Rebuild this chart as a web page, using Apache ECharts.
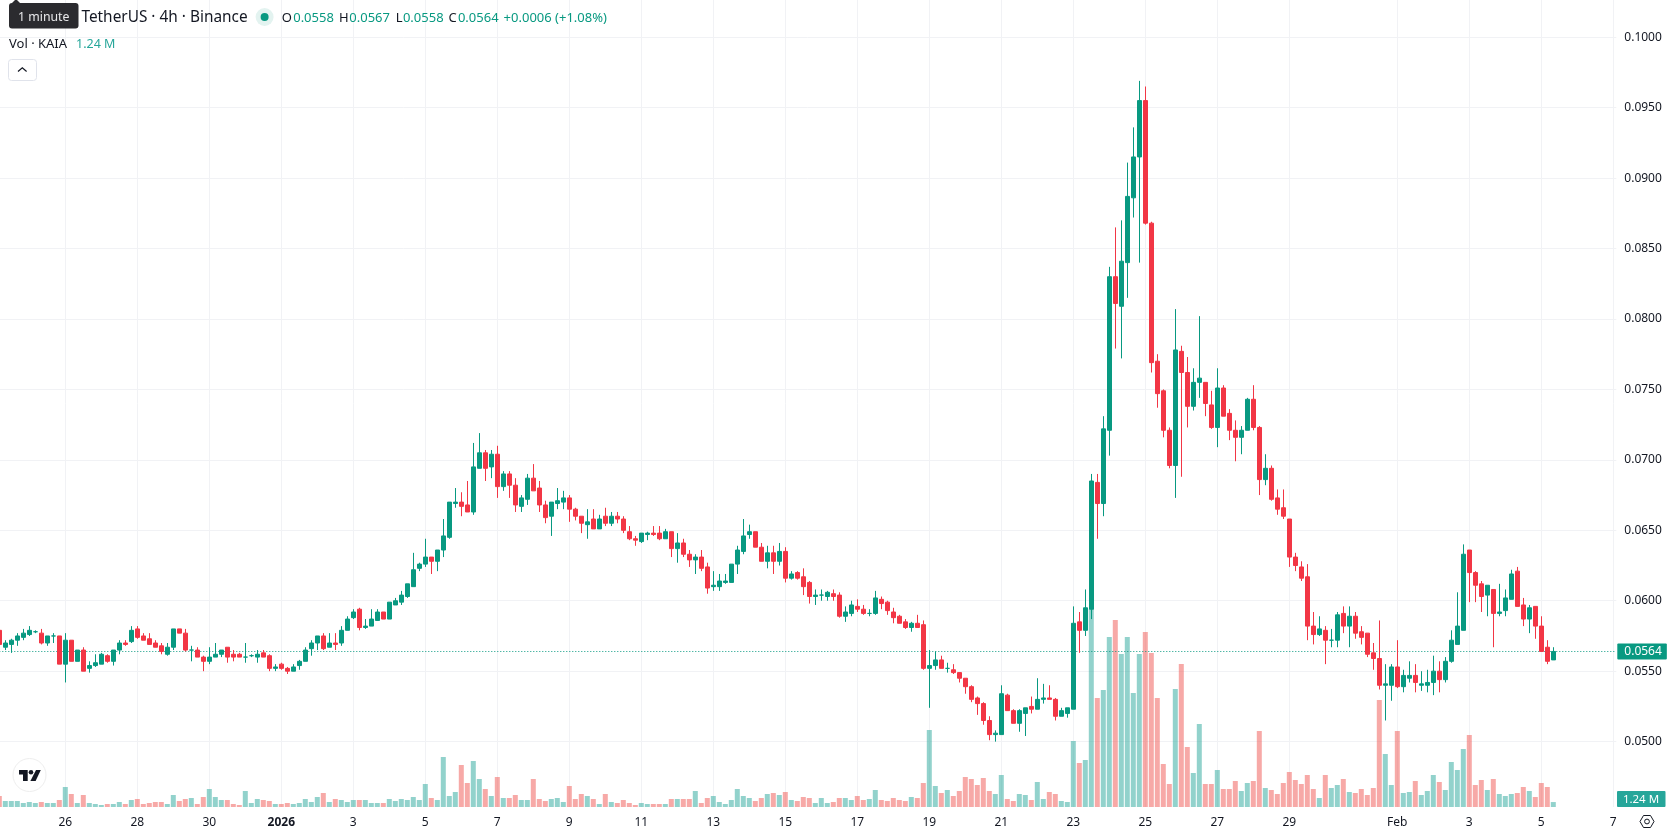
<!DOCTYPE html>
<html>
<head>
<meta charset="utf-8">
<title>KAIA / TetherUS 4h</title>
<style>
  html, body { margin: 0; padding: 0; background: #fff; }
  #chart { width: 1678px; height: 835px; }
</style>
<script src="https://cdn.jsdelivr.net/npm/echarts@6/dist/echarts.min.js"></script>
</head>
<body>
<div id="chart"></div>
<script>
// KAIA/USDT 4h candles, prices in units of 0.0001 USDT.
const opens = [
  579,567,569,572,574,576,578,577,570,575, 575,555,572,557,565,552,554,555,561,557,
  565,570,571,580,575,573,570,568,562,567, 580,577,565,565,560,557,560,562,567,562,
  562,560,561,560,563,561,552,555,552,550, 554,557,566,570,575,567,570,570,579,588,
  594,581,582,586,592,587,597,599,603,610, 623,626,631,628,636,645,669,670,668,663,
  694,705,695,704,681,690,682,667,672,687, 680,668,660,669,670,673,665,660,654,658,
  651,660,655,660,658,649,644,642,647,648, 648,644,649,637,641,633,629,631,624,610,
  610,613,613,626,635,647,649,638,628,634, 628,635,616,620,617,613,603,604,603,605,
  604,589,591,596,594,591,591,601,599,592, 589,585,581,584,583,552,554,558,552,551,
  549,545,539,531,527,515,505,505,533,522, 513,520,525,523,530,531,530,518,520,523,
  585,579,594,684,669,721,830,809,840,886, 915,955,868,770,749,721,696,777,762,738,
  755,755,739,723,751,733,721,716,721,743, 723,686,694,673,666,658,631,624,617,582,
  576,579,572,572,591,582,589,578,577,563, 559,540,540,553,539,545,547,540,540,542,
  550,544,557,569,579,636,620,612,604,608, 591,593,601,621,597,587,596,582,567,558
];
const highs = [
  580,572,573,577,580,582,579,580,575,577, 575,577,572,565,567,557,562,563,562,565,
  572,572,582,582,577,577,572,570,570,580, 580,580,568,567,561,567,570,565,567,565,
  563,570,562,565,565,562,555,556,553,555, 558,567,572,575,577,577,577,582,589,594,
  595,587,594,594,592,599,602,607,612,634, 627,644,631,636,658,670,680,677,685,712,
  719,707,707,710,692,692,687,675,690,697, 685,671,670,680,678,675,666,660,665,665,
  661,666,663,663,660,653,646,648,649,653, 653,651,649,648,644,636,633,636,627,621,
  619,619,626,639,658,654,649,641,639,639, 641,638,621,621,623,614,608,608,607,608,
  606,596,600,601,597,594,607,603,600,595, 590,587,585,590,586,565,564,561,556,555,
  549,545,540,532,528,518,508,540,534,523, 523,524,532,545,541,540,531,524,524,596,
  592,608,690,690,731,837,865,870,911,936, 969,965,869,775,750,723,807,781,773,765,
  802,755,749,765,753,736,728,724,744,753, 724,704,696,679,679,658,634,628,626,592,
  589,582,580,592,596,596,592,582,577,570, 586,555,555,572,551,557,555,550,551,561,
  557,560,579,606,640,636,621,614,611,608, 612,608,622,624,602,597,596,589,572,567
];
const lows = [
  569,565,563,568,572,575,577,569,568,570, 555,542,557,557,550,549,553,555,556,554,
  562,568,570,573,572,569,567,562,561,565, 577,564,557,560,550,555,560,560,556,557,
  560,556,560,556,560,550,550,551,548,550, 551,557,561,565,565,567,565,568,579,587,
  579,580,582,586,587,587,597,597,602,610, 621,624,619,621,631,644,666,660,663,661,
  694,685,687,673,678,673,663,663,668,678, 663,655,646,665,665,656,657,648,644,651,
  651,653,653,655,648,643,639,641,643,646, 643,644,631,627,631,624,619,621,605,607,
  607,612,613,619,633,644,638,628,623,619, 625,613,615,615,604,598,597,600,600,600,
  588,585,589,592,590,589,590,594,590,584, 584,580,578,581,551,524,551,552,549,548,
  542,534,528,519,512,501,500,505,522,513, 507,504,520,523,527,530,515,518,517,523,
  563,575,587,644,660,703,779,772,815,872, 840,867,762,737,716,694,673,688,723,735,
  744,731,722,709,731,714,699,704,721,721, 675,682,671,661,658,624,621,614,572,569,
  575,555,567,567,577,567,573,569,560,551, 537,515,529,538,535,542,535,536,535,533,
  535,542,556,569,579,599,599,592,589,567, 589,589,601,596,582,577,573,564,555,558
];
const closes = [
  569,570,572,575,577,579,578,570,575,575, 555,572,557,565,550,554,556,562,557,565,
  570,569,579,574,572,569,567,564,567,580, 577,565,565,560,557,560,562,565,560,560,
  560,560,561,562,560,552,553,552,550,553, 557,565,570,575,566,570,569,579,587,592,
  581,582,587,592,587,599,600,604,612,622, 626,631,628,636,646,670,670,667,663,695,
  705,694,704,681,690,682,668,673,687,678, 668,659,670,671,673,665,660,655,656,651,
  658,655,660,658,650,644,643,648,648,647, 644,649,637,641,633,629,631,623,609,611,
  614,614,626,636,646,649,638,628,634,628, 635,616,619,616,610,603,604,604,606,603,
  589,592,597,594,591,591,602,598,593,588, 584,581,584,581,552,554,558,552,552,549,
  545,539,530,527,515,505,506,534,522,513, 522,524,523,530,531,530,518,522,524,584,
  579,595,685,669,722,830,811,841,887,915, 955,868,769,747,721,696,778,762,738,755,
  758,740,723,751,731,721,716,721,743,723, 686,694,672,665,660,631,625,616,582,576,
  580,572,572,590,582,589,577,574,562,559, 540,541,553,539,547,547,542,541,542,550,
  544,557,572,582,633,620,611,603,611,591, 592,602,619,596,587,595,582,564,557,564
];
// Traded volume per candle, in millions of KAIA.
const volumes = [
  2.75,1.5,1.5,1.5,1,1.25,1,1.25,1,1, 1.75,5,3.25,1,3,1,.75,.5,.75,.75,
  1.25,.75,1.75,2,.75,1,1.25,1.25,.75,3, 1.5,2,2.25,.75,2.5,4.5,2.5,1.75,1.75,.75,
  .5,4,1,2,1.75,1.5,.75,.75,1,.75, 1,2,1.25,2.5,3.5,1.25,2,1.75,1.25,1.75,
  1.75,1.75,1,1,1,2,1.5,2,1.75,2.5, 1.75,5.75,2.25,1.75,12.5,2.75,3.75,10.5,6,11.5,
  7,4.5,2.75,7.5,2.25,2.25,3,1.75,1.75,7, 2,1.5,2,2.25,1.25,5.25,2,3.25,2.75,2,
  .75,3.25,1.25,1,1.75,1,.5,1,.75,.75, .75,.75,2,2,2,2,4,1,2.25,2.75,
  1.25,.75,1.75,4.5,2.75,2.25,1.5,2.25,3.25,3.5, 3,3.75,1.75,1.5,2.5,2.25,1,2.25,1,1.25,
  2.25,2.25,1.75,2.75,1.75,2,4.25,1.75,1.5,2.25, 1.75,1.5,2.5,2.25,6,19.25,5.25,3.5,4.25,2.75,
  4,7.5,7,5.5,7.25,4,3.25,8,2,1.5, 3.25,3,1.75,6.25,2,3.75,3.25,1.5,1.25,16.5,
  11,11.75,49.5,27.25,29.25,42.5,46.75,38.25,42.5,28.5, 38.25,43.75,38.5,27.25,10.75,5.75,29.5,35.75,15,8.5,
  20.75,5.75,5.75,9.25,4.5,4.5,6.5,4,6,6.5, 19,4.75,4.25,3.25,6,8.75,6.75,5.75,8,4.5,
  2.25,8,4.75,5.5,7,3.75,3.5,4.5,3,4.75, 26.75,13.25,5.5,19,3.5,3.75,6.5,3,4,8,
  6.25,4.25,11.25,9.25,14.5,18,5.5,6.75,4.25,7, 3.25,2.75,3.25,3.5,5,4,2.5,6,5,1.24
];
const priceTicks = [0.05, 0.055, 0.06, 0.065, 0.07, 0.075, 0.08, 0.085, 0.09, 0.095, 0.1];
const tickDates = [
  '2025-12-26','2025-12-28','2025-12-30','2026-01-01','2026-01-03','2026-01-05','2026-01-07',
  '2026-01-09','2026-01-11','2026-01-13','2026-01-15','2026-01-17','2026-01-19','2026-01-21',
  '2026-01-23','2026-01-25','2026-01-27','2026-01-29','2026-02-01','2026-02-03','2026-02-05','2026-02-07'
];
const tickLabels = [
  '26','28','30','2026','3','5','7','9','11','13','15','17','19','21','23','25','27','29','Feb','3','5','7'
];
const lastPrice = 0.0564;

const UP = '#089981', DOWN = '#F23645';
const VOL_UP = 'rgba(38,166,154,0.5)', VOL_DOWN = 'rgba(239,83,80,0.5)';
const INK = '#131722', GRID = '#f1f2f5', FONT = '"Noto Sans", sans-serif';

// Four-hour slots from the first candle to the end of the right-hand margin.
const SLOT_COUNT = 270;
const firstSlot = Date.UTC(2025, 11, 24, 4);
const categories = Array.from({ length: SLOT_COUNT }, (_, i) =>
  new Date(firstSlot + i * 4 * 3600 * 1000).toISOString().slice(0, 16).replace('T', ' '));
const tickByCategory = {};
tickDates.forEach((d, i) => { tickByCategory[d + ' 00:00'] = tickLabels[i]; });
const isTick = (index, value) => value in tickByCategory;

const candleData = opens.map((o, i) =>
  [o, closes[i], lows[i], highs[i]].map(v => v / 10000));
const volumeData = volumes.map((v, i) => ({
  value: v,
  itemStyle: { color: closes[i] >= opens[i] ? VOL_UP : VOL_DOWN }
}));

function label(text, x, y, fill, extra) {
  return { type: 'text', silent: true, z: 20,
    style: Object.assign({ text, x, y, fill, font: '13px ' + FONT, textVerticalAlign: 'middle' }, extra || {}) };
}

// Legend strip, collapse button, logo badge and settings icon.
const overlay = [
  { type: 'polygon', silent: true, z: 19, shape: { points: [[12, 3], [16, -1], [20, 3]] }, style: { fill: '#2b2b2f' } },
  { type: 'rect', silent: true, z: 19, shape: { x: 9, y: 3, width: 69.5, height: 25.5, r: 3 }, style: { fill: '#2b2b2f' } },
  label('1 minute', 18, 17, '#e8e8ea', { font: '12.3px ' + FONT }),
  label('TetherUS · 4h · Binance', 81.4, 17.5, INK, { font: '15.4px ' + FONT }),
  { type: 'circle', silent: true, z: 19, shape: { cx: 264.6, cy: 17, r: 9 }, style: { fill: '#e3f3f0' } },
  { type: 'circle', silent: true, z: 20, shape: { cx: 264.6, cy: 17, r: 4 }, style: { fill: UP } },
  label('O', 281.8, 18, INK), label('0.0558', 293.2, 18, UP),
  label('H', 339, 18, INK), label('0.0567', 349.3, 18, UP),
  label('L', 395.7, 18, INK), label('0.0558', 402.9, 18, UP),
  label('C', 448.6, 18, INK), label('0.0564', 457.9, 18, UP),
  label('+0.0006 (+1.08%)', 503.6, 18, UP),
  label('Vol · KAIA', 9, 44.3, INK),
  label('1.24 M', 76, 44.3, '#26a69a', { font: '12.5px ' + FONT }),
  { type: 'rect', silent: true, z: 19, shape: { x: 8.5, y: 59.5, width: 28, height: 21, r: 3 }, style: { fill: '#fff', stroke: '#e0e3eb' } },
  { type: 'polyline', silent: true, z: 20, shape: { points: [[18, 71.5], [22.3, 67.8], [26.6, 71.5]] }, style: { fill: 'none', stroke: INK, lineWidth: 1.2 } },
  { type: 'circle', silent: true, z: 19, shape: { cx: 29.5, cy: 775, r: 16.5 }, style: { fill: '#fff', stroke: '#eeeeee', lineWidth: 1 } },
  { type: 'polygon', silent: true, z: 20, shape: { points: [[19, 770], [27.7, 770], [27.7, 781], [23, 781], [23, 774.5], [19, 774.5]] }, style: { fill: '#131722' } },
  { type: 'circle', silent: true, z: 20, shape: { cx: 31, cy: 772.3, r: 2.3 }, style: { fill: '#131722' } },
  { type: 'polygon', silent: true, z: 20, shape: { points: [[36, 770], [40.8, 770], [35.6, 781], [30.4, 781]] }, style: { fill: '#131722' } },
  { type: 'rect', silent: true, z: 19, shape: { x: 1617, y: 791, width: 48.5, height: 16, r: 1 }, style: { fill: '#26a69a' } },
  label('1.24 M', 1641, 799.5, '#ffffff', { textAlign: 'center', font: '11.5px ' + FONT }),
  { type: 'polygon', silent: true, z: 20, shape: { points: [[1640, 821.5], [1643.5, 815.5], [1650.5, 815.5], [1654, 821.5], [1650.5, 827.5], [1643.5, 827.5]] }, style: { fill: 'none', stroke: INK, lineWidth: 1 } },
  { type: 'circle', silent: true, z: 20, shape: { cx: 1647, cy: 821.5, r: 2.4 }, style: { fill: 'none', stroke: INK, lineWidth: 1 } }
];

const chart = echarts.init(document.getElementById('chart'), null, { renderer: 'canvas' });
chart.setOption({
  animation: false,
  backgroundColor: '#ffffff',
  textStyle: { fontFamily: FONT },
  grid: [
    { left: -3.7, width: 1620, top: 0, height: 807, outerBoundsMode: 'none' },
    { left: -3.7, width: 1620, top: 607, height: 200, outerBoundsMode: 'none' }
  ],
  xAxis: [
    {
      type: 'category', gridIndex: 0, data: categories, boundaryGap: true,
      axisLine: { show: false }, axisTick: { show: false },
      splitLine: { show: true, alignWithLabel: true, interval: isTick, lineStyle: { color: GRID, width: 1 } },
      axisLabel: {
        interval: isTick, margin: 10, color: INK, fontSize: 12, fontFamily: FONT,
        formatter: v => tickByCategory[v] === '2026' ? '{b|2026}' : tickByCategory[v],
        rich: { b: { fontWeight: 'bold', fontSize: 12, color: INK, fontFamily: FONT } }
      }
    },
    {
      type: 'category', gridIndex: 1, data: categories, boundaryGap: true,
      axisLine: { show: false }, axisTick: { show: false }, axisLabel: { show: false }, splitLine: { show: false }
    }
  ],
  yAxis: [
    {
      type: 'value', gridIndex: 0, position: 'right', scale: true, min: 0.04536, max: 0.10264,
      axisLine: { show: false },
      axisTick: { show: false, customValues: priceTicks },
      splitLine: { show: true, lineStyle: { color: GRID, width: 1 } },
      axisLabel: {
        customValues: priceTicks, margin: 8, align: 'left', color: INK, fontSize: 12, fontFamily: FONT,
        formatter: v => v.toFixed(4)
      }
    },
    {
      type: 'value', gridIndex: 1, min: 0, max: 50, show: false
    }
  ],
  series: [
    {
      name: 'Volume', type: 'bar', xAxisIndex: 1, yAxisIndex: 1, z: 1,
      barWidth: 5, data: volumeData, silent: true
    },
    {
      name: 'KAIAUSDT', type: 'candlestick', xAxisIndex: 0, yAxisIndex: 0, z: 3,
      barWidth: 5, data: candleData, silent: true,
      itemStyle: {
        color: UP, color0: DOWN, borderColor: UP, borderColor0: DOWN,
        borderColorDoji: UP, borderWidth: 1
      },
      markLine: {
        silent: true, symbol: 'none', z: 2, animation: false, precision: 4,
        lineStyle: { color: UP, type: [1, 2], width: 1 },
        label: {
          show: true, position: 'end', distance: 1, formatter: () => lastPrice.toFixed(4),
          color: '#fff', backgroundColor: UP, fontSize: 12, fontFamily: FONT,
          padding: [2, 5, 2, 7], borderRadius: 1
        },
        data: [{ yAxis: lastPrice }]
      }
    }
  ],
  graphic: { elements: overlay }
});
</script>
</body>
</html>
